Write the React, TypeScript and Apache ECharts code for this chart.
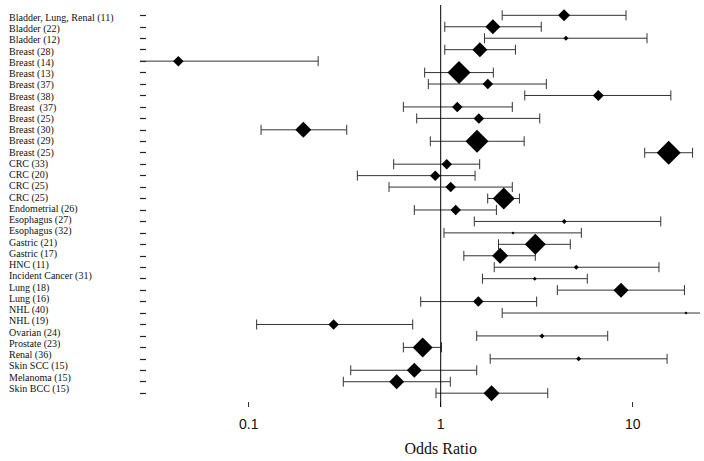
import React, { useEffect, useRef } from "react";
import * as echarts from "echarts";

const categories = [
  "Bladder, Lung, Renal (11)",
  "Bladder (22)",
  "Bladder (12)",
  "Breast (28)",
  "Breast (14)",
  "Breast (13)",
  "Breast (37)",
  "Breast (38)",
  "Breast  (37)",
  "Breast (25)",
  "Breast (30)",
  "Breast (29)",
  "Breast (25)",
  "CRC (33)",
  "CRC (20)",
  "CRC (25)",
  "CRC (25)",
  "Endometrial (26)",
  "Esophagus (27)",
  "Esophagus (32)",
  "Gastric (21)",
  "Gastric (17)",
  "HNC (11)",
  "Incident Cancer (31)",
  "Lung (18)",
  "Lung (16)",
  "NHL (40)",
  "NHL (19)",
  "Ovarian (24)",
  "Prostate (23)",
  "Renal (36)",
  "Skin SCC (15)",
  "Melanoma (15)",
  "Skin BCC (15)",
];

const oddsRatio = [
  4.39, 1.87, 4.49, 1.6, 0.043, 1.245, 1.76, 6.62, 1.22, 1.58, 0.1925, 1.545,
  15.4, 1.075, 0.937, 1.127, 2.13, 1.197, 4.4, 2.38, 3.11, 2.04, 5.08, 3.09,
  8.69, 1.57, 18.95, 0.277, 3.37, 0.806, 5.23, 0.729, 0.59, 1.84,
];

const lowerCI = [
  2.09, 1.05, 1.69, 1.05, 0.02, 0.825, 0.862, 2.74, 0.639, 0.75, 0.116, 0.883,
  11.55, 0.569, 0.368, 0.538, 1.757, 0.729, 1.496, 1.04, 2.0, 1.32, 1.9, 1.65,
  4.05, 0.787, 2.09, 0.11, 1.54, 0.639, 1.81, 0.34, 0.311, 0.945,
];

const upperCI = [
  9.23, 3.34, 11.87, 2.45, 0.23, 1.88, 3.55, 15.8, 2.36, 3.28, 0.324, 2.72,
  20.5, 1.596, 1.51, 2.36, 2.57, 1.95, 14.0, 5.4, 4.73, 3.11, 13.7, 5.8, 18.6,
  3.16, 25, 0.715, 7.41, 1.01, 15.1, 1.54, 1.122, 3.61,
];

// relative weight of each study, drawn as diamond width
const markerSize = [
  12, 15, 5, 15, 10.5, 23, 10.5, 11, 10.5, 10.5, 16, 23, 24, 10.5, 10.5, 10.5,
  22, 10.5, 5, 3, 21, 16, 5, 4, 15, 10.5, 3, 10.5, 5, 20, 5, 15, 15, 16,
];

const xTickValues = [0.1, 1, 10];
const xAxisTitle = "Odds Ratio";

export default function App() {
  const ref = useRef<HTMLDivElement>(null);

  useEffect(() => {
    if (!ref.current) return;
    const chart = echarts.init(ref.current, null, { renderer: "svg" });
    const rows = categories.map((_, i) => i);
    const barData = rows.map((i) => [lowerCI[i], upperCI[i], i]);
    const pointData = rows.map((i) => [oddsRatio[i], i, markerSize[i]]);
    const stroke = "#333";

    chart.setOption({
      animation: false,
      backgroundColor: "#fff",
      grid: [
        { left: 140, width: 560, top: 9.6, height: 389.3 },
        { left: 248.7, width: 384, top: 5, height: 405 },
        { left: 140, width: 560, top: 11.7, height: 382.2 },
      ],
      xAxis: [
        { gridIndex: 0, type: "log", logBase: 10, min: 0.02716, max: 22.41, show: false },
        {
          gridIndex: 1,
          type: "log",
          logBase: 10,
          min: xTickValues[0],
          max: xTickValues[xTickValues.length - 1],
          axisLine: { show: false },
          splitLine: { show: false },
          axisTick: { show: true, inside: true, length: 5, lineStyle: { color: stroke } },
          axisLabel: {
            margin: 10,
            fontFamily: "Liberation Sans",
            fontSize: 14,
            color: "#111",
          },
          name: xAxisTitle,
          nameLocation: "middle",
          nameGap: 33,
          nameTextStyle: { fontFamily: "Liberation Serif", fontSize: 16, color: "#111" },
        },
        { gridIndex: 2, type: "value", show: false },
      ],
      yAxis: [
        {
          gridIndex: 0,
          type: "category",
          inverse: true,
          data: categories,
          axisLine: { show: false },
          axisLabel: { show: false, interval: 0 },
          axisTick: {
            show: true,
            inside: true,
            length: 6,
            interval: 0,
            alignWithLabel: true,
            lineStyle: { color: "#222", width: 1.2 },
          },
          splitLine: { show: false },
        },
        { gridIndex: 1, type: "value", min: 0, max: 1, show: false },
        {
          gridIndex: 2,
          type: "category",
          inverse: true,
          data: categories,
          axisLine: { show: false },
          axisTick: { show: false },
          splitLine: { show: false },
          axisLabel: {
            align: "left",
            margin: 131,
            fontFamily: "Liberation Serif",
            fontSize: 10,
            color: "#111",
            interval: 0,
          },
        },
      ],
      series: [
        {
          type: "line",
          xAxisIndex: 1,
          yAxisIndex: 1,
          data: [
            [1, 0],
            [1, 1],
          ],
          symbol: "none",
          silent: true,
          lineStyle: { color: "#000", width: 1 },
        },
        {
          type: "custom",
          xAxisIndex: 0,
          yAxisIndex: 0,
          data: barData,
          encode: { x: [0, 1], y: 2 },
          silent: true,
          renderItem: (params: any, api: any) => {
            const idx = api.value(2);
            const p0 = api.coord([api.value(0), idx]);
            const p1 = api.coord([api.value(1), idx]);
            const cs = params.coordSys;
            const xmin = cs.x;
            const xmax = cs.x + cs.width;
            const y = p0[1];
            const h = 5;
            const x0 = Math.max(p0[0], xmin);
            const x1 = Math.min(p1[0], xmax);
            const style = { stroke, lineWidth: 1, fill: "none" };
            const children: any[] = [
              { type: "line", shape: { x1: x0, y1: y, x2: x1, y2: y }, style },
            ];
            if (p0[0] >= xmin) {
              children.push({
                type: "line",
                shape: { x1: p0[0], y1: y - h, x2: p0[0], y2: y + h },
                style,
              });
            }
            if (p1[0] <= xmax) {
              children.push({
                type: "line",
                shape: { x1: p1[0], y1: y - h, x2: p1[0], y2: y + h },
                style,
              });
            }
            return { type: "group", children };
          },
          z: 2,
        },
        {
          type: "scatter",
          xAxisIndex: 0,
          yAxisIndex: 0,
          data: pointData,
          symbol: "diamond",
          symbolSize: (val: number[]) => val[2],
          itemStyle: { color: "#000", opacity: 1 },
          silent: true,
          z: 3,
        },
      ],
    });

    return () => chart.dispose();
  }, []);

  return (
    <div
      ref={ref}
      style={{
        position: "fixed",
        left: 0,
        top: 0,
        width: 704,
        height: 461,
        background: "#fff",
      }}
    />
  );
}
